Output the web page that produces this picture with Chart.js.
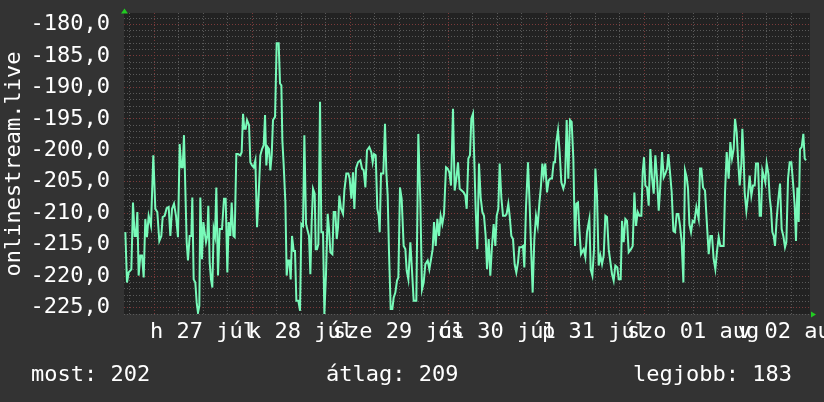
<!DOCTYPE html>
<html>
<head>
<meta charset="utf-8">
<script src="https://cdn.jsdelivr.net/npm/chart.js@4/dist/chart.umd.min.js"></script>
<style>
  html, body { margin: 0; padding: 0; background: #333333; }
  #wrap { width: 824px; height: 402px; }
</style>
</head>
<body>
<div id="wrap"><canvas id="rankChart" width="824" height="402"></canvas></div>
<script>
// hours since 27 Jul 00:00, and the rank (plotted negative, like the rrd graph)
const hours = [
  -7.02,-6.62,-6.21,-5.55,-5.15,-4.74,-4.41,-4.08,-3.76,-3.35,-2.94,-2.53,-2.13,-1.72,-1.31,-0.74,-0.17,0.32,0.81,1.30,1.79,2.12,2.61,3.10,3.59,4.00,4.41,4.90,5.38,5.87,6.28,6.69,7.02,7.34,7.67,8.00,8.32,8.73,9.14,9.38,9.71,10.12,10.45,10.77,11.10,11.34,11.75,12.08,12.40,12.73,13.06,13.30,13.63,13.96,14.28,14.61,14.94,15.26,15.67,16.08,16.65,17.14,17.55,17.96,18.28,18.69,19.02,19.43,19.75,20.16,
  20.57,21.14,21.47,21.80,22.12,22.45,22.78,23.27,23.59,24.00,24.41,24.82,25.23,25.64,26.04,26.45,26.86,27.19,27.51,27.84,28.17,28.49,28.82,29.14,29.64,30.04,30.53,30.86,31.19,31.43,31.76,32.17,32.49,32.82,33.14,33.47,33.80,34.21,34.53,34.86,35.35,35.76,36.08,36.49,36.82,37.23,37.63,37.96,38.29,38.61,38.94,39.35,39.60,39.92,40.25,40.66,40.98,41.39,41.72,42.12,42.53,42.86,43.19,43.68,44.00,44.41,44.74,45.06,45.39,45.80,46.29,46.61,47.10,47.59,47.92,48.33,
  48.73,49.06,49.47,49.96,50.53,50.94,51.35,51.76,52.16,52.73,53.22,53.55,53.88,54.29,54.69,55.02,55.27,55.59,56.16,56.57,56.90,57.22,57.55,57.96,58.37,58.69,59.10,59.51,59.84,60.24,60.65,61.14,61.55,61.88,62.29,62.78,63.18,63.59,64.24,64.73,65.22,65.63,66.04,66.45,67.02,67.43,67.84,68.24,68.57,68.98,69.39,69.80,70.20,70.61,71.02,71.51,71.92,72.33,72.73,73.22,73.63,74.04,74.45,74.86,75.35,75.84,76.24,76.57,
  76.98,77.38,77.71,78.12,78.45,78.77,79.18,79.59,80.00,80.41,80.81,81.22,81.55,81.96,82.36,82.77,83.18,83.59,83.92,84.32,84.65,85.06,85.47,86.04,86.36,86.77,87.10,87.51,87.92,88.32,88.73,89.14,89.47,89.96,90.36,90.69,91.10,91.59,92.00,92.41,92.73,93.14,93.55,93.96,94.36,94.77,95.10,95.43,95.83,96.24,96.65,97.06,97.47,97.87,98.20,98.53,98.94,99.34,99.75,100.24,100.65,101.06,101.47,101.87,102.28,102.69,103.10,103.43,103.83,104.16,104.57,
  105.23,105.64,106.04,106.62,106.94,107.35,107.76,108.09,108.49,108.90,109.31,109.72,110.13,110.53,110.94,111.35,111.84,112.17,112.57,112.98,113.47,113.80,114.29,114.62,115.02,115.43,115.84,116.25,116.82,117.23,117.64,118.04,118.45,118.86,119.35,119.68,120.00,120.33,120.74,121.15,121.55,121.96,122.37,122.78,123.19,123.60,124.00,124.41,124.82,125.23,125.64,125.96,126.37,126.78,127.19,127.60,128.00,128.41,128.82,129.23,129.64,130.04,130.45,130.78,131.11,131.51,131.92,132.33,132.82,
  133.39,133.71,134.04,134.45,134.94,135.43,135.84,136.25,136.65,137.06,137.47,137.88,138.29,138.69,139.10,139.51,139.84,140.25,140.73,141.14,141.55,141.96,142.29,142.69,143.02,143.43,143.84,144.08,144.41,144.65,145.06,145.47,145.88,146.29,146.69,147.10,147.43,147.92,148.33,148.65,148.98,149.31,149.71,150.04,150.45,150.78,151.10,151.43,151.76,152.08,152.49,152.90,153.31,153.71,154.12,154.53,154.86,155.27,155.67,156.08,156.49,156.90,157.22,157.55,157.88,158.20,158.61,159.02,159.35,159.67
];
const rank = [
  -213.0,-221.0,-219.4,-218.9,-208.3,-213.6,-213.6,-209.8,-219.9,-216.7,-216.7,-220.2,-210.9,-213.8,-210.4,-212.0,-200.8,-209.3,-209.8,-214.4,-213.6,-210.6,-210.4,-209.2,-209.0,-213.6,-209.3,-208.5,-210.4,-213.8,-199.0,-202.7,-202.7,-197.6,-206.1,-214.6,-217.5,-213.6,-213.6,-207.5,-220.5,-221.0,-224.2,-225.8,-224.7,-207.5,-217.3,-211.4,-213.0,-214.6,-213.6,-208.8,-217.8,-220.5,-221.8,-212.5,-213.6,-205.9,-219.9,-212.5,-212.5,-207.7,-207.7,-219.4,-211.4,-213.6,-208.3,-213.6,-213.8,-200.6,
  -200.6,-200.8,-200.3,-194.2,-196.6,-196.6,-195.2,-196.0,-201.9,-202.4,-202.7,-201.6,-212.2,-206.9,-200.8,-199.8,-199.2,-194.4,-202.4,-199.5,-199.8,-203.2,-200.8,-195.2,-194.7,-183.0,-183.0,-189.4,-189.7,-198.4,-202.4,-208.3,-219.9,-217.5,-217.5,-220.5,-213.6,-216.0,-216.0,-223.9,-223.9,-225.5,-211.7,-212.0,-197.6,-211.7,-212.8,-213.6,-219.7,-211.4,-206.1,-206.9,-215.7,-215.7,-214.9,-192.3,-213.0,-213.0,-226.0,-219.7,-210.1,-212.5,-216.2,-216.5,-209.8,-209.8,-214.1,-212.2,-207.2,-209.3,-210.1,-206.4,-203.7,-203.7,-204.5,-207.7,
  -203.5,-209.3,-202.9,-201.9,-201.6,-202.9,-203.2,-205.9,-200.0,-199.5,-200.3,-201.9,-200.6,-200.8,-209.3,-210.4,-213.0,-203.7,-203.7,-195.8,-203.5,-207.2,-216.2,-225.2,-225.2,-223.4,-222.6,-220.7,-220.2,-205.9,-207.7,-215.2,-215.7,-219.1,-220.5,-214.6,-219.1,-223.9,-223.9,-197.4,-208.0,-222.1,-221.0,-218.1,-217.5,-218.9,-217.3,-215.7,-211.4,-215.2,-210.9,-213.6,-210.4,-211.7,-210.1,-202.7,-202.9,-203.5,-205.6,-193.4,-206.4,-204.5,-201.9,-206.1,-206.4,-206.7,-207.2,-209.3,
  -201.3,-200.8,-195.0,-194.2,-201.9,-209.3,-215.7,-202.1,-207.5,-209.8,-210.4,-213.6,-218.9,-214.1,-219.9,-215.2,-211.7,-215.2,-210.4,-209.3,-202.1,-207.5,-210.4,-210.4,-210.1,-208.5,-210.4,-213.6,-214.1,-218.1,-219.4,-217.8,-215.4,-215.4,-215.2,-218.6,-209.0,-201.9,-208.8,-216.7,-222.6,-214.1,-210.4,-212.0,-208.5,-205.6,-202.1,-204.0,-202.1,-206.7,-204.8,-204.5,-204.5,-201.9,-201.9,-198.7,-196.8,-200.3,-205.1,-206.1,-205.1,-195.2,-204.5,-195.2,-195.5,-201.3,-215.2,-208.5,-208.3,-212.5,-216.5,
  -215.7,-217.0,-213.0,-210.9,-218.9,-219.9,-215.7,-202.9,-207.2,-218.3,-216.7,-218.1,-216.7,-210.4,-210.6,-215.7,-218.1,-219.7,-220.7,-218.3,-218.6,-220.5,-220.5,-211.2,-214.6,-210.9,-211.2,-216.2,-215.7,-215.2,-206.7,-212.0,-209.8,-210.4,-210.4,-203.5,-201.1,-205.6,-205.9,-208.8,-199.8,-204.3,-206.9,-200.8,-204.5,-209.6,-205.6,-200.3,-204.3,-203.7,-202.9,-200.6,-203.5,-206.7,-212.8,-213.0,-210.1,-210.1,-212.0,-214.6,-221.0,-203.2,-204.3,-206.1,-211.7,-213.0,-211.2,-211.4,-209.0,
  -210.9,-202.9,-202.9,-205.9,-206.4,-212.0,-216.5,-213.6,-213.6,-217.3,-218.9,-216.0,-213.8,-215.2,-215.2,-215.2,-206.7,-200.3,-204.5,-198.7,-201.3,-199.8,-195.0,-197.1,-201.3,-205.6,-202.1,-196.6,-201.3,-206.7,-209.6,-207.2,-204.0,-207.2,-205.6,-205.6,-202.1,-202.1,-210.4,-210.4,-203.2,-204.0,-205.1,-202.1,-203.7,-207.5,-209.3,-213.0,-213.6,-215.2,-210.9,-207.7,-205.3,-212.5,-213.6,-215.4,-214.6,-204.5,-201.9,-201.9,-205.1,-208.8,-214.4,-205.9,-211.4,-199.8,-199.5,-197.4,-201.3,-201.6
];
// one label per day, placed at noon
const dayLabels = ['h 27 júl', 'k 28 júl', 'sze 29 júl', 'cs 30 júl', 'p 31 júl', 'szo 01 aug', 'v 02 aug'];
const yTitle = 'onlinestream.live';
const current = 202;
const average = 209;
const best = 183;

const majorGrid = '#7a3a3a';
const minorGrid = '#595959';
const fontFamily = "'DejaVu Sans Mono', monospace";

const xGridHours = [];
for (let h = -6; h <= 156; h += 6) xGridHours.push(h);
const yGridValues = [];
for (let v = -226; v <= -179; v++) yGridValues.push(v);

const rrdLook = {
  id: 'rrdLook',
  beforeDraw(chart) {
    const { ctx, chartArea: a } = chart;
    ctx.save();
    ctx.fillStyle = '#333333';
    ctx.fillRect(0, 0, chart.width, chart.height);
    ctx.fillStyle = '#222222';
    ctx.fillRect(a.left, a.top, a.right - a.left, a.bottom - a.top);
    ctx.restore();
  },
  afterDraw(chart) {
    const { ctx, chartArea: a } = chart;
    ctx.save();
    // little green arrows at the axis ends
    ctx.fillStyle = '#22cc22';
    ctx.beginPath();
    ctx.moveTo(a.left - 3, a.top + 0.5);
    ctx.lineTo(a.left + 4, a.top + 0.5);
    ctx.lineTo(a.left + 0.5, a.top - 4.5);
    ctx.closePath();
    ctx.fill();
    ctx.beginPath();
    ctx.moveTo(a.right + 1, a.bottom - 2.5);
    ctx.lineTo(a.right + 1, a.bottom + 3.5);
    ctx.lineTo(a.right + 6, a.bottom + 0.5);
    ctx.closePath();
    ctx.fill();

    ctx.fillStyle = '#ffffff';
    ctx.font = '22px ' + fontFamily;
    ctx.textBaseline = 'alphabetic';
    ctx.textAlign = 'left';
    ctx.fillText('most: ' + current, 31, 381);
    ctx.fillText('átlag: ' + average, 326, 381);
    ctx.textAlign = 'right';
    ctx.fillText('legjobb: ' + best, 792, 381);

    ctx.translate(20, 164);
    ctx.rotate(-Math.PI / 2);
    ctx.textAlign = 'center';
    ctx.fillText(yTitle, 0, 0);
    ctx.restore();
  }
};

new Chart(document.getElementById('rankChart'), {
  type: 'line',
  data: {
    datasets: [{
      data: hours.map((h, i) => ({ x: h, y: rank[i] })),
      borderColor: 'rgb(120, 250, 185)',
      borderWidth: 2,
      pointRadius: 0,
      tension: 0,
      fill: false
    }]
  },
  options: {
    responsive: false,
    animation: false,
    layout: { padding: { top: 13, right: 14, left: 0, bottom: 0 } },
    plugins: { legend: { display: false }, tooltip: { enabled: false } },
    scales: {
      x: {
        type: 'linear',
        min: -7.35,
        max: 160.65,
        afterBuildTicks: s => { s.ticks = xGridHours.map(v => ({ value: v })); },
        afterFit: s => { s.height = 88; s.paddingLeft = 0; s.paddingRight = 0; },
        grid: {
          drawTicks: false,
          lineWidth: 1,
          color: c => (c.tick && c.tick.value % 24 === 0 ? majorGrid : minorGrid)
        },
        border: { display: false, dash: [1, 2] },
        ticks: {
          autoSkip: false,
          maxRotation: 0,
          minRotation: 0,
          padding: 5,
          color: '#ffffff',
          font: { family: fontFamily, size: 22 },
          callback: v => (v % 24 === 12 ? dayLabels[(v - 12) / 24] : '')
        }
      },
      y: {
        min: -226,
        max: -178.2,
        afterBuildTicks: s => { s.ticks = yGridValues.map(v => ({ value: v })); },
        afterFit: s => { s.width = 124; s.paddingTop = 0; s.paddingBottom = 0; },
        grid: {
          drawTicks: false,
          lineWidth: 1,
          color: c => (c.tick && c.tick.value % 5 === 0 ? majorGrid : minorGrid)
        },
        border: { display: false, dash: [1, 2] },
        ticks: {
          autoSkip: false,
          padding: 14,
          color: '#ffffff',
          font: { family: fontFamily, size: 22 },
          callback: v => (v % 5 === 0 ? v.toFixed(1).replace('.', ',') : '')
        }
      }
    }
  },
  plugins: [rrdLook]
});
</script>
</body>
</html>
